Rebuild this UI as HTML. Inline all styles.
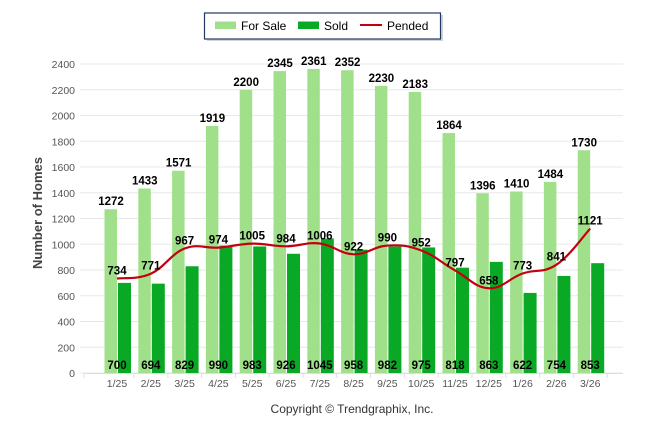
<!DOCTYPE html>
<html><head><meta charset="utf-8"><style>
body{margin:0;background:#fff;}
svg{display:block;font-family:"Liberation Sans",sans-serif;}
</style></head><body>
<svg id="c" width="646" height="434" xmlns="http://www.w3.org/2000/svg">
<rect x="0" y="0" width="646" height="434" fill="#fff"/>
<g id="grid"></g>
<g id="bars"></g>
<path id="line" fill="none" stroke="#c4000e" stroke-width="2.2"/>
<g id="labels" font-weight="bold" font-size="11.5" fill="#000" text-anchor="middle"></g>
<text x="0" y="0" transform="translate(42,213) rotate(-90)" text-anchor="middle" font-size="13" font-weight="bold" fill="#444">Number of Homes</text>
<rect x="207" y="15" width="236" height="26" fill="#888" opacity="0.35"/>
<rect x="204.5" y="13" width="236" height="26" fill="#fff" stroke="#1f3864" stroke-width="1.2"/>
<rect x="215" y="21.5" width="21" height="7.5" fill="#a1e08a"/>
<text x="241" y="30" font-size="12" fill="#000">For Sale</text>
<rect x="298" y="21.5" width="21" height="7.5" fill="#0aa925"/>
<text x="324" y="30" font-size="12" fill="#000">Sold</text>
<line x1="360" y1="25" x2="382" y2="25" stroke="#c4000e" stroke-width="2"/>
<text x="387" y="30" font-size="12" fill="#000">Pended</text>
<text x="352" y="413" text-anchor="middle" font-size="12" fill="#333">Copyright © Trendgraphix, Inc.</text>
</svg>
<script>
var NS="http://www.w3.org/2000/svg";
function el(t,a,p,txt){var e=document.createElementNS(NS,t);for(var k in a)e.setAttribute(k,a[k]);if(txt!=null)e.textContent=txt;document.getElementById(p).appendChild(e);return e;}
var Y=function(v){return 373-v*309/2400;};
for(var v=0;v<=2400;v+=200){var y=Y(v);
 el('line',{x1:80,x2:623,y1:y,y2:y,stroke:'#e8e8e8','stroke-width':1},'grid');
 el('text',{x:75,y:y+4,'text-anchor':'end','font-size':'10.5',fill:'#555'},'grid',v);}
el('line',{x1:84,x2:623,y1:373.5,y2:373.5,stroke:'#ddd'},'grid');
var cats=["1/25","2/25","3/25","4/25","5/25","6/25","7/25","8/25","9/25","10/25","11/25","12/25","1/26","2/26","3/26"];
var fs=[1272,1433,1571,1919,2200,2345,2361,2352,2230,2183,1864,1396,1410,1484,1730];
var sd=[700,694,829,990,983,926,1045,958,982,975,818,863,622,754,853];
var pd=[734,771,967,974,1005,984,1006,922,990,952,797,658,773,841,1121];
var pts=[];
for(var i=0;i<15;i++){var c=117+i*33.8;
 el('rect',{x:c-12.5,y:Y(fs[i]),width:12.5,height:373-Y(fs[i]),fill:'#a1e08a'},'bars');
 el('rect',{x:c+1,y:Y(sd[i]),width:13,height:373-Y(sd[i]),fill:'#0aa925'},'bars');
 el('line',{x1:c+17,x2:c+17,y1:373,y2:378,stroke:'#ddd'},'grid');
 el('text',{x:c,y:387,'text-anchor':'middle','font-size':'10.5',fill:'#555'},'grid',cats[i]);
 el('text',{x:c-6,y:Y(fs[i])-4},'labels',fs[i]);
 el('text',{x:c,y:369},'labels',sd[i]);
 el('text',{x:c,y:Y(pd[i])-4},'labels',pd[i]);
 pts.push([c,Y(pd[i])]);}
el('line',{x1:84,x2:84,y1:373,y2:378,stroke:'#ddd'},'grid');
var d="M"+pts[0][0]+","+pts[0][1];
for(var i=0;i<14;i++){var p0=pts[Math.max(0,i-1)],p1=pts[i],p2=pts[i+1],p3=pts[Math.min(14,i+2)];
 var t=0.2;
 d+=" C"+(p1[0]+(p2[0]-p0[0])*t)+","+(p1[1]+(p2[1]-p0[1])*t)+" "+(p2[0]-(p3[0]-p1[0])*t)+","+(p2[1]-(p3[1]-p1[1])*t)+" "+p2[0]+","+p2[1];}
document.getElementById('line').setAttribute('d',d);
</script>
</body></html>
